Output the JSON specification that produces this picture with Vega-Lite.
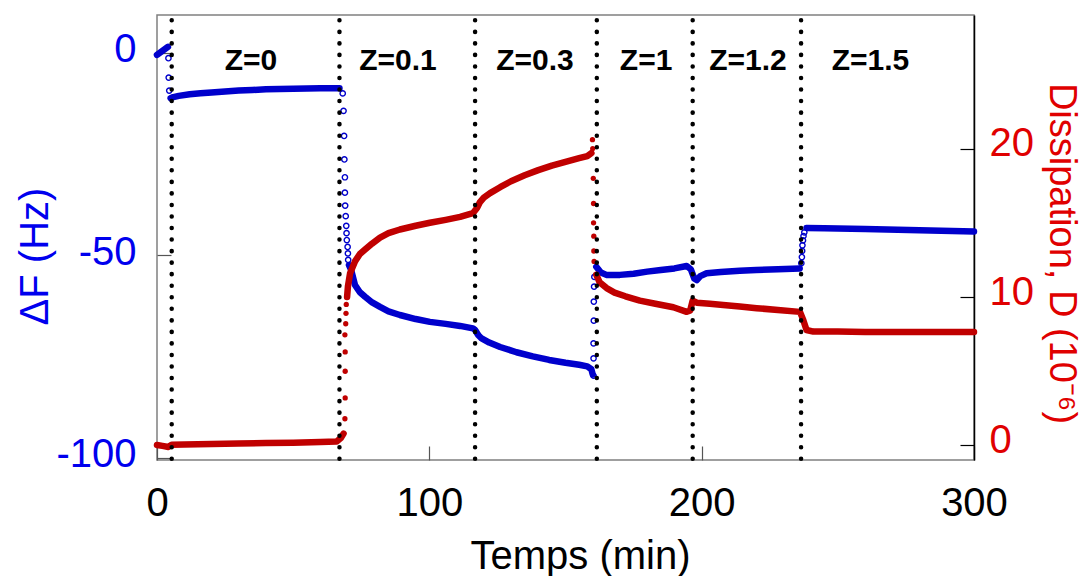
{
  "$schema": "https://vega.github.io/schema/vega-lite/v6.json",
  "width": 817,
  "height": 445,
  "autosize": {"type": "none"},
  "padding": {"left": 157, "top": 15, "right": 115, "bottom": 116},
  "background": "white",
  "config": {
    "view": {"stroke": "#808080", "strokeWidth": 1.5},
    "font": "Liberation Sans"
  },
  "datasets": {
    "blue": [
      {"t": 0, "v": -0.6, "k": "L", "s": 0}, {"t": 1, "v": -0.1, "k": "L", "s": 0}, {"t": 2, "v": 0.4, "k": "L", "s": 0}, {"t": 3, "v": 0.9, "k": "L", "s": 0}, {"t": 4, "v": 1.4, "k": "L", "s": 0},
      {"t": 4.2, "v": -1.4, "k": "C", "s": 9}, {"t": 4.3, "v": -6.2, "k": "C", "s": 9}, {"t": 4.5, "v": -9.4, "k": "C", "s": 9},
      {"t": 5, "v": -11.3, "k": "L", "s": 1}, {"t": 6, "v": -11.0, "k": "L", "s": 1}, {"t": 8, "v": -10.7, "k": "L", "s": 1}, {"t": 12, "v": -10.3, "k": "L", "s": 1}, {"t": 16, "v": -10.05, "k": "L", "s": 1}, {"t": 20, "v": -9.85, "k": "L", "s": 1}, {"t": 25, "v": -9.6, "k": "L", "s": 1}, {"t": 30, "v": -9.4, "k": "L", "s": 1}, {"t": 35, "v": -9.25, "k": "L", "s": 1}, {"t": 40, "v": -9.1, "k": "L", "s": 1}, {"t": 45, "v": -9.0, "k": "L", "s": 1}, {"t": 50, "v": -8.95, "k": "L", "s": 1}, {"t": 55, "v": -8.9, "k": "L", "s": 1}, {"t": 60, "v": -8.85, "k": "L", "s": 1}, {"t": 67, "v": -8.8, "k": "L", "s": 1},
      {"t": 68.2, "v": -10.1, "k": "C", "s": 9}, {"t": 68.5, "v": -14.4, "k": "C", "s": 9}, {"t": 68.7, "v": -20.6, "k": "C", "s": 9}, {"t": 68.8, "v": -26.4, "k": "C", "s": 9}, {"t": 69.0, "v": -30.8, "k": "C", "s": 9}, {"t": 69.0, "v": -34.6, "k": "C", "s": 9}, {"t": 69.1, "v": -37.8, "k": "C", "s": 9}, {"t": 69.3, "v": -40.4, "k": "C", "s": 9}, {"t": 69.5, "v": -42.8, "k": "C", "s": 9}, {"t": 69.6, "v": -44.6, "k": "C", "s": 9}, {"t": 69.7, "v": -46.3, "k": "C", "s": 9}, {"t": 70.0, "v": -48.0, "k": "C", "s": 9}, {"t": 70.1, "v": -49.6, "k": "C", "s": 9}, {"t": 70.2, "v": -51.2, "k": "C", "s": 9},
      {"t": 70.5, "v": -52.5, "k": "L", "s": 2}, {"t": 71.3, "v": -53.7, "k": "L", "s": 2}, {"t": 72.7, "v": -57.4, "k": "L", "s": 2}, {"t": 74.5, "v": -59.2, "k": "L", "s": 2}, {"t": 76.4, "v": -60.3, "k": "L", "s": 2}, {"t": 79, "v": -61.7, "k": "L", "s": 2}, {"t": 81.9, "v": -62.8, "k": "L", "s": 2}, {"t": 85, "v": -63.9, "k": "L", "s": 2}, {"t": 89.2, "v": -64.8, "k": "L", "s": 2}, {"t": 95, "v": -65.8, "k": "L", "s": 2}, {"t": 100.2, "v": -66.5, "k": "L", "s": 2}, {"t": 106, "v": -67.0, "k": "L", "s": 2}, {"t": 111.3, "v": -67.5, "k": "L", "s": 2}, {"t": 116, "v": -68.1, "k": "L", "s": 2},
      {"t": 116.8, "v": -68.5, "k": "L", "s": 3}, {"t": 118, "v": -69.8, "k": "L", "s": 3}, {"t": 119.2, "v": -70.6, "k": "L", "s": 3}, {"t": 122, "v": -71.6, "k": "L", "s": 3}, {"t": 126, "v": -72.7, "k": "L", "s": 3}, {"t": 132, "v": -74.0, "k": "L", "s": 3}, {"t": 138, "v": -75.0, "k": "L", "s": 3}, {"t": 144, "v": -75.9, "k": "L", "s": 3}, {"t": 150, "v": -76.6, "k": "L", "s": 3}, {"t": 155, "v": -77.1, "k": "L", "s": 3}, {"t": 158, "v": -77.5, "k": "L", "s": 3}, {"t": 159.5, "v": -78.2, "k": "L", "s": 3}, {"t": 160, "v": -79.5, "k": "L", "s": 3},
      {"t": 160.3, "v": -79.8, "k": "C", "s": 9}, {"t": 160.3, "v": -75.5, "k": "C", "s": 9}, {"t": 160.3, "v": -71.8, "k": "C", "s": 9}, {"t": 160.4, "v": -66.2, "k": "C", "s": 9}, {"t": 160.4, "v": -61.5, "k": "C", "s": 9}, {"t": 160.5, "v": -57.8, "k": "C", "s": 9}, {"t": 160.6, "v": -55.4, "k": "C", "s": 9},
      {"t": 161.3, "v": -52.9, "k": "L", "s": 4}, {"t": 163, "v": -54.3, "k": "L", "s": 4}, {"t": 165, "v": -54.9, "k": "L", "s": 4}, {"t": 170, "v": -54.9, "k": "L", "s": 4}, {"t": 175, "v": -54.6, "k": "L", "s": 4}, {"t": 180, "v": -54.1, "k": "L", "s": 4}, {"t": 185, "v": -53.7, "k": "L", "s": 4}, {"t": 190, "v": -53.3, "k": "L", "s": 4}, {"t": 194.5, "v": -52.7, "k": "L", "s": 4}, {"t": 196, "v": -53.5, "k": "L", "s": 4}, {"t": 197.3, "v": -55.8, "k": "L", "s": 4}, {"t": 198.2, "v": -56.2, "k": "L", "s": 4}, {"t": 199.5, "v": -55.2, "k": "L", "s": 4}, {"t": 201.8, "v": -54.5, "k": "L", "s": 4}, {"t": 207, "v": -54.2, "k": "L", "s": 4}, {"t": 214, "v": -53.9, "k": "L", "s": 4}, {"t": 220, "v": -53.7, "k": "L", "s": 4}, {"t": 228, "v": -53.5, "k": "L", "s": 4}, {"t": 236, "v": -53.3, "k": "L", "s": 4},
      {"t": 236.6, "v": -52.0, "k": "C", "s": 9}, {"t": 236.8, "v": -50.5, "k": "C", "s": 9}, {"t": 236.9, "v": -49.0, "k": "C", "s": 9}, {"t": 237.0, "v": -47.6, "k": "C", "s": 9}, {"t": 237.2, "v": -46.4, "k": "C", "s": 9}, {"t": 237.4, "v": -45.3, "k": "C", "s": 9}, {"t": 237.7, "v": -44.4, "k": "C", "s": 9},
      {"t": 238.5, "v": -43.3, "k": "L", "s": 5}, {"t": 245, "v": -43.4, "k": "L", "s": 5}, {"t": 260, "v": -43.6, "k": "L", "s": 5}, {"t": 280, "v": -43.9, "k": "L", "s": 5}, {"t": 300, "v": -44.2, "k": "L", "s": 5}
    ],
    "red": [
      {"t": 0, "v": 0.03, "k": "L", "s": 0}, {"t": 2, "v": -0.03, "k": "L", "s": 0}, {"t": 4.2, "v": -0.1, "k": "L", "s": 0}, {"t": 5.4, "v": 0.05, "k": "L", "s": 0}, {"t": 10, "v": 0.06, "k": "L", "s": 0}, {"t": 20, "v": 0.1, "k": "L", "s": 0}, {"t": 30, "v": 0.13, "k": "L", "s": 0}, {"t": 40, "v": 0.16, "k": "L", "s": 0}, {"t": 50, "v": 0.19, "k": "L", "s": 0}, {"t": 60, "v": 0.23, "k": "L", "s": 0}, {"t": 66, "v": 0.27, "k": "L", "s": 0}, {"t": 67.5, "v": 0.5, "k": "L", "s": 0}, {"t": 68.5, "v": 0.8, "k": "L", "s": 0},
      {"t": 69.0, "v": 1.8, "k": "P", "s": 9}, {"t": 69.1, "v": 3.2, "k": "P", "s": 9}, {"t": 69.1, "v": 5.0, "k": "P", "s": 9}, {"t": 69.1, "v": 6.3, "k": "P", "s": 9}, {"t": 69.0, "v": 7.45, "k": "P", "s": 9}, {"t": 69.3, "v": 8.2, "k": "P", "s": 9}, {"t": 69.4, "v": 8.9, "k": "P", "s": 9}, {"t": 69.5, "v": 9.5, "k": "P", "s": 9},
      {"t": 69.8, "v": 10.0, "k": "L", "s": 1}, {"t": 70.1, "v": 10.7, "k": "L", "s": 1}, {"t": 70.9, "v": 11.6, "k": "L", "s": 1}, {"t": 72.7, "v": 12.4, "k": "L", "s": 1}, {"t": 74.5, "v": 12.9, "k": "L", "s": 1}, {"t": 76.4, "v": 13.2, "k": "L", "s": 1}, {"t": 79, "v": 13.6, "k": "L", "s": 1}, {"t": 81.9, "v": 14.0, "k": "L", "s": 1}, {"t": 85, "v": 14.3, "k": "L", "s": 1}, {"t": 89.2, "v": 14.55, "k": "L", "s": 1}, {"t": 95, "v": 14.8, "k": "L", "s": 1}, {"t": 100.2, "v": 15.0, "k": "L", "s": 1}, {"t": 106, "v": 15.2, "k": "L", "s": 1}, {"t": 111.3, "v": 15.4, "k": "L", "s": 1}, {"t": 116, "v": 15.65, "k": "L", "s": 1}, {"t": 117.5, "v": 16.0, "k": "L", "s": 1}, {"t": 118.6, "v": 16.4, "k": "L", "s": 1}, {"t": 120, "v": 16.7, "k": "L", "s": 1}, {"t": 122.3, "v": 17.0, "k": "L", "s": 1}, {"t": 126, "v": 17.4, "k": "L", "s": 1}, {"t": 130, "v": 17.8, "k": "L", "s": 1}, {"t": 135, "v": 18.2, "k": "L", "s": 1}, {"t": 140, "v": 18.55, "k": "L", "s": 1}, {"t": 145, "v": 18.85, "k": "L", "s": 1}, {"t": 150, "v": 19.1, "k": "L", "s": 1}, {"t": 155, "v": 19.35, "k": "L", "s": 1}, {"t": 158, "v": 19.5, "k": "L", "s": 1}, {"t": 159.5, "v": 19.7, "k": "L", "s": 1},
      {"t": 159.9, "v": 20.6, "k": "P", "s": 9}, {"t": 160.0, "v": 20.0, "k": "P", "s": 9}, {"t": 160.2, "v": 18.0, "k": "P", "s": 9}, {"t": 160.3, "v": 16.3, "k": "P", "s": 9}, {"t": 160.3, "v": 15.0, "k": "P", "s": 9}, {"t": 160.4, "v": 14.1, "k": "P", "s": 9}, {"t": 160.4, "v": 13.1, "k": "P", "s": 9}, {"t": 160.5, "v": 12.4, "k": "P", "s": 9},
      {"t": 161.3, "v": 11.5, "k": "L", "s": 3}, {"t": 162.5, "v": 11.0, "k": "L", "s": 3}, {"t": 165.1, "v": 10.6, "k": "L", "s": 3}, {"t": 168, "v": 10.3, "k": "L", "s": 3}, {"t": 172, "v": 10.05, "k": "L", "s": 3}, {"t": 177.3, "v": 9.76, "k": "L", "s": 3}, {"t": 183, "v": 9.55, "k": "L", "s": 3}, {"t": 189.6, "v": 9.31, "k": "L", "s": 3}, {"t": 194.5, "v": 9.0, "k": "L", "s": 3}, {"t": 195.8, "v": 9.1, "k": "L", "s": 3}, {"t": 196.7, "v": 9.76, "k": "L", "s": 3}, {"t": 198.2, "v": 9.62, "k": "L", "s": 3}, {"t": 203, "v": 9.55, "k": "L", "s": 3}, {"t": 207.9, "v": 9.47, "k": "L", "s": 3}, {"t": 214, "v": 9.36, "k": "L", "s": 3}, {"t": 220.2, "v": 9.25, "k": "L", "s": 3}, {"t": 228, "v": 9.12, "k": "L", "s": 3}, {"t": 236.1, "v": 9.0, "k": "L", "s": 3}, {"t": 237.3, "v": 8.46, "k": "L", "s": 3}, {"t": 238.5, "v": 7.78, "k": "L", "s": 3}, {"t": 241, "v": 7.67, "k": "L", "s": 3}, {"t": 250, "v": 7.67, "k": "L", "s": 3}, {"t": 260, "v": 7.65, "k": "L", "s": 3}, {"t": 270, "v": 7.65, "k": "L", "s": 3}, {"t": 280, "v": 7.65, "k": "L", "s": 3}, {"t": 290, "v": 7.65, "k": "L", "s": 3}, {"t": 300, "v": 7.65, "k": "L", "s": 3}
    ],
    "zones": [
      {"t": 34.5, "v": -2.1, "z": "Z=0"},
      {"t": 88.5, "v": -2.1, "z": "Z=0.1"},
      {"t": 138.8, "v": -2.1, "z": "Z=0.3"},
      {"t": 179.6, "v": -2.1, "z": "Z=1"},
      {"t": 217, "v": -2.1, "z": "Z=1.2"},
      {"t": 262, "v": -2.1, "z": "Z=1.5"}
    ],
    "bounds": [
      {"t": 5.4}, {"t": 67}, {"t": 116.8}, {"t": 161.5}, {"t": 196.7}, {"t": 236.5}
    ]
  },
  "layer": [
    {
      "layer": [
        {
          "data": {"name": "blue"},
          "transform": [{"filter": "datum.k === 'L'"}],
          "mark": {"type": "line", "color": "#0000cc", "strokeWidth": 6.5, "strokeCap": "round", "strokeJoin": "round"},
          "encoding": {
            "x": {"field": "t", "type": "quantitative", "scale": {"domain": [0, 300], "nice": false, "zero": false},
              "axis": {"values": [0, 100, 200, 300], "title": "Temps (min)", "grid": false, "domain": false,
                "tickSize": -14, "tickColor": "#555555", "tickWidth": 1.2, "labelPadding": 37,
                "labelFontSize": 40, "labelColor": "#000000", "labelFont": "Liberation Sans",
                "titleFontSize": 40, "titleFont": "Liberation Sans", "titleFontWeight": "normal", "titleColor": "#000000",
                "titleX": 423, "titleY": 108, "titleAlign": "center", "titleBaseline": "alphabetic", "labelFlush": false}},
            "y": {"field": "v", "type": "quantitative", "scale": {"domain": [-100.6, 9.26], "nice": false, "zero": false},
              "axis": {"values": [-100, -50, 0], "title": "ΔF (Hz)", "grid": false, "domain": false, "orient": "left",
                "labelExpr": "datum.value < 0 ? '-' + abs(datum.value) : '' + datum.value",
                "tickSize": -14, "tickColor": "#555555", "tickWidth": 1.2, "labelPadding": 35, "labelOffset": -3,
                "labelFontSize": 40, "labelColor": "#0000ee", "labelFont": "Liberation Sans",
                "titleFontSize": 40, "titleFont": "Liberation Sans", "titleFontWeight": "normal", "titleColor": "#0000ee",
                "titleAngle": -90, "titleX": -122, "titleY": 241, "titleAlign": "center", "titleBaseline": "middle"}},
            "detail": {"field": "s", "type": "nominal"}
          }
        },
        {
          "data": {"name": "blue"},
          "transform": [{"filter": "datum.k === 'C'"}],
          "mark": {"type": "point", "shape": "circle", "filled": false, "color": "#0000cc", "size": 28, "strokeWidth": 1.4, "opacity": 1},
          "encoding": {
            "x": {"field": "t", "type": "quantitative"},
            "y": {"field": "v", "type": "quantitative"}
          }
        },
        {
          "data": {"name": "zones"},
          "mark": {"type": "text", "font": "Liberation Sans", "fontSize": 30, "fontWeight": "bold", "color": "#000000", "align": "center", "baseline": "middle"},
          "encoding": {
            "x": {"field": "t", "type": "quantitative"},
            "y": {"field": "v", "type": "quantitative"},
            "text": {"field": "z", "type": "nominal"}
          }
        }
      ]
    },
    {
      "layer": [
        {
          "data": {"name": "red"},
          "transform": [{"filter": "datum.k === 'L'"}],
          "mark": {"type": "line", "color": "#c00000", "strokeWidth": 6.5, "strokeCap": "round", "strokeJoin": "round"},
          "encoding": {
            "x": {"field": "t", "type": "quantitative"},
            "y": {"field": "v", "type": "quantitative", "scale": {"domain": [-0.98, 29.0], "nice": false, "zero": false},
              "axis": {"values": [0, 10, 20], "title": "Dissipation, D (10⁻⁶)", "grid": false, "orient": "right",
                "domain": true, "domainColor": "#000000", "domainWidth": 1.5,
                "tickSize": -14, "tickColor": "#000000", "tickWidth": 1.2, "labelPadding": 29, "labelOffset": -5,
                "labelFontSize": 40, "labelColor": "#e00000", "labelFont": "Liberation Sans",
                "titleFontSize": 38, "titleFont": "Liberation Sans", "titleFontWeight": "normal", "titleColor": "#e00000",
                "titleAngle": 90, "titleX": 86, "titleY": 238, "titleAlign": "center", "titleBaseline": "middle"}},
            "detail": {"field": "s", "type": "nominal"}
          }
        },
        {
          "data": {"name": "red"},
          "transform": [{"filter": "datum.k === 'P'"}],
          "mark": {"type": "point", "shape": "circle", "filled": true, "color": "#c00000", "size": 28, "opacity": 1},
          "encoding": {
            "x": {"field": "t", "type": "quantitative"},
            "y": {"field": "v", "type": "quantitative"}
          }
        }
      ]
    },
    {
      "data": {"name": "bounds"},
      "mark": {"type": "rule", "color": "#000000", "strokeWidth": 4.5, "strokeCap": "round", "strokeDash": [0.1, 11.44], "strokeDashOffset": 6.3},
      "encoding": {
        "x": {"field": "t", "type": "quantitative"}
      }
    }
  ],
  "resolve": {"scale": {"y": "independent"}}
}
